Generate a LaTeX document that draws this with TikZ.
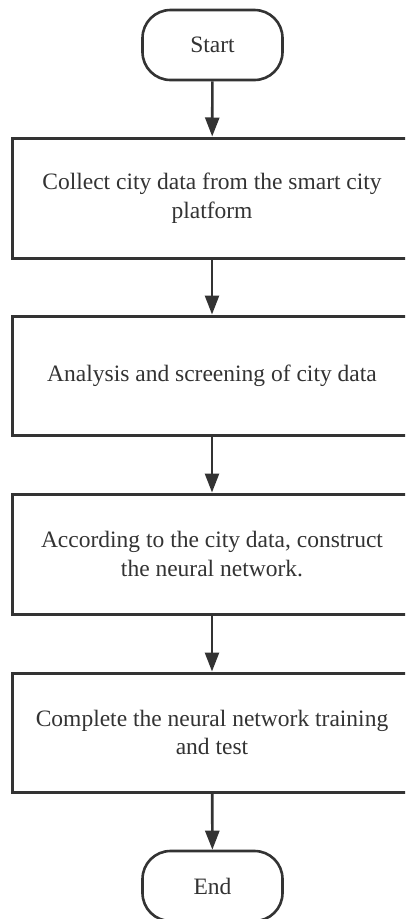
\documentclass[tikz,border=0pt]{standalone}
\usepackage{fontspec}
\setmainfont{Liberation Serif}
\usetikzlibrary{arrows.meta}
\definecolor{ink}{HTML}{333333}
\begin{document}
\begin{tikzpicture}[x=1pt,y=1pt,
  every node/.style={font=\fontsize{23.5}{28.7}\selectfont, text=ink, align=center},
  term/.style={draw=ink, line width=2.6pt, rounded corners=28pt, minimum width=140pt, minimum height=70pt, inner sep=0pt},
  procbox/.style={draw=ink, line width=3pt, minimum width=399pt, inner sep=0pt},
  flow/.style={draw=ink, line width=2.6pt, -{Triangle[length=19pt,width=14pt]}}
]
\clip (0,0) rectangle (405,-919);
\fill[white] (0,0) rectangle (405,-919);
\node[term] (start) at (212.5,-45) {Start};
\node[procbox, minimum height=120pt] (b1) at (212,-198) {Collect city data from the smart city\\platform};
\node[procbox, minimum height=119pt] (b2) at (212,-375.5) {Analysis and screening of city data};
\node[procbox, minimum height=120pt] (b3) at (212,-554) {According to the city data, construct\\the neural network.};
\node[procbox, minimum height=119pt] (b4) at (212,-732.5) {Complete the neural network training\\and test};
\node[term] (end) at (212.5,-886) {End};
\draw[flow] (start) -- (b1);
\draw[flow] (b1) -- (b2);
\draw[flow] (b2) -- (b3);
\draw[flow] (b3) -- (b4);
\draw[flow] (b4) -- (end);
\end{tikzpicture}
\end{document}
